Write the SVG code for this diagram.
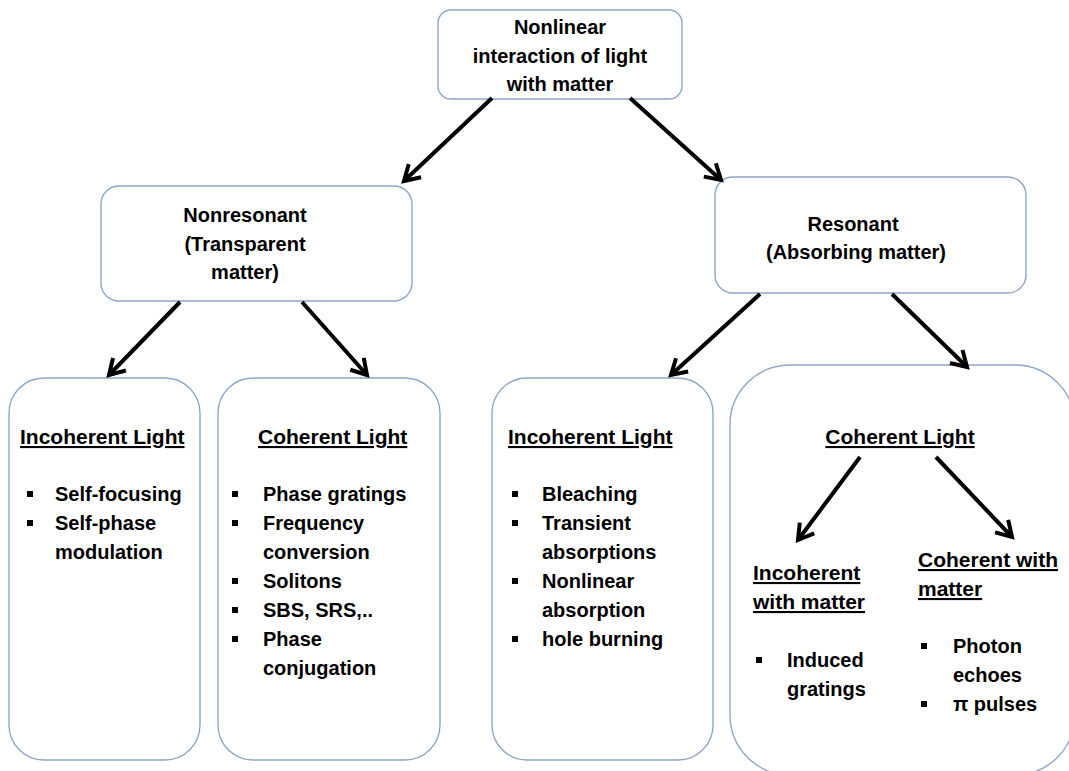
<svg xmlns="http://www.w3.org/2000/svg" width="1069" height="771" viewBox="0 0 1069 771">
<style>
.box{fill:#fff;stroke:#8fa6c6;stroke-width:1.4}
.t{font-family:"Liberation Sans",Arial,sans-serif;font-weight:bold;font-size:20px;fill:#000}
.c{text-anchor:middle}
.u{text-decoration:underline;font-size:21px}
.conn line{stroke:#000;stroke-width:4;marker-end:url(#arr)}
.b{fill:#000}
</style>
<defs>
<marker id="arr" markerUnits="userSpaceOnUse" markerWidth="30" markerHeight="30" refX="0" refY="0" viewBox="-20 -15 25 30" orient="auto" overflow="visible">
<path d="M-15,-9 L0,0 L-15,9" fill="none" stroke="#000" stroke-width="4" stroke-linejoin="miter"/>
</marker>
</defs>
<rect width="1069" height="771" fill="#fff"/>
<g id="top">
<rect class="box" x="438" y="10" width="244" height="89" rx="13"/>
<text class="t c" x="560" y="34">Nonlinear</text>
<text class="t c" x="560" y="63">interaction of light</text>
<text class="t c" x="560" y="91">with matter</text>
</g>
<g id="nonresonant">
<rect class="box" x="101" y="186" width="311" height="115" rx="18"/>
<text class="t c" x="245" y="222">Nonresonant</text>
<text class="t c" x="245" y="251">(Transparent</text>
<text class="t c" x="245" y="279">matter)</text>
</g>
<g id="resonant">
<rect class="box" x="715" y="177" width="311" height="116" rx="18"/>
<text class="t c" x="853" y="231">Resonant</text>
<text class="t c" x="856" y="259">(Absorbing matter)</text>
</g>
<g id="nr-incoherent">
<rect class="box" x="9" y="378" width="191" height="382" rx="35"/>
<text class="t u" x="20" y="444">Incoherent Light</text>
<rect class="b" x="27" y="491" width="6" height="6"/>
<rect class="b" x="27" y="520" width="6" height="6"/>
<text class="t" x="55" y="501">Self-focusing</text>
<text class="t" x="55" y="530">Self-phase</text>
<text class="t" x="55" y="559">modulation</text>
</g>
<g id="nr-coherent">
<rect class="box" x="218" y="378" width="222" height="382" rx="35"/>
<text class="t u" x="258" y="444">Coherent Light</text>
<rect class="b" x="232" y="491" width="6" height="6"/>
<rect class="b" x="232" y="520" width="6" height="6"/>
<rect class="b" x="232" y="578" width="6" height="6"/>
<rect class="b" x="232" y="607" width="6" height="6"/>
<rect class="b" x="232" y="636" width="6" height="6"/>
<text class="t" x="263" y="501">Phase gratings</text>
<text class="t" x="263" y="530">Frequency</text>
<text class="t" x="263" y="559">conversion</text>
<text class="t" x="263" y="588">Solitons</text>
<text class="t" x="263" y="617">SBS, SRS,..</text>
<text class="t" x="263" y="646">Phase</text>
<text class="t" x="263" y="675">conjugation</text>
</g>
<g id="r-incoherent">
<rect class="box" x="492" y="378" width="221" height="382" rx="35"/>
<text class="t u" x="508" y="444">Incoherent Light</text>
<rect class="b" x="512" y="491" width="6" height="6"/>
<rect class="b" x="512" y="520" width="6" height="6"/>
<rect class="b" x="512" y="578" width="6" height="6"/>
<rect class="b" x="512" y="636" width="6" height="6"/>
<text class="t" x="542" y="501">Bleaching</text>
<text class="t" x="542" y="530">Transient</text>
<text class="t" x="542" y="559">absorptions</text>
<text class="t" x="542" y="588">Nonlinear</text>
<text class="t" x="542" y="617">absorption</text>
<text class="t" x="542" y="646">hole burning</text>
</g>
<g id="r-coherent">
<rect class="box" x="730" y="365" width="345" height="410" rx="60"/>
<text class="t c u" x="900" y="444">Coherent Light</text>
</g>
<g id="incoherent-matter">
<text class="t u" x="753" y="580">Incoherent</text>
<text class="t u" x="753" y="609">with matter</text>
<rect class="b" x="756" y="657" width="6" height="6"/>
<text class="t" x="787" y="667">Induced</text>
<text class="t" x="787" y="696">gratings</text>
</g>
<g id="coherent-matter">
<text class="t u" x="918" y="567">Coherent with</text>
<text class="t u" x="918" y="596">matter</text>
<rect class="b" x="921" y="643" width="6" height="6"/>
<rect class="b" x="921" y="701" width="6" height="6"/>
<text class="t" x="953" y="653">Photon</text>
<text class="t" x="953" y="682">echoes</text>
<text class="t" x="953" y="711">π pulses</text>
</g>
<g id="connectors" class="conn">
<line x1="492" y1="98" x2="404" y2="181"/>
<line x1="630" y1="98" x2="721" y2="180"/>
<line x1="180" y1="302" x2="109" y2="375"/>
<line x1="302" y1="302" x2="367" y2="375"/>
<line x1="760" y1="294" x2="671" y2="375"/>
<line x1="892" y1="294" x2="967" y2="367"/>
<line x1="860" y1="457" x2="798" y2="540"/>
<line x1="936" y1="457" x2="1012" y2="537"/>
</g>
</svg>
